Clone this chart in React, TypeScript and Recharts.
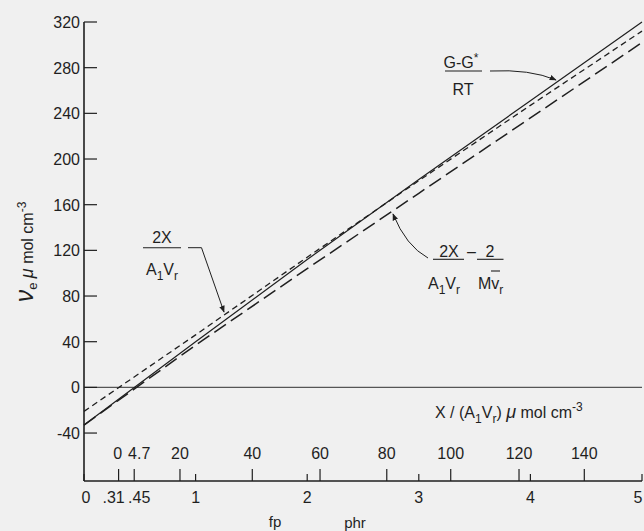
import { LineChart, Line, XAxis, YAxis, ReferenceLine } from "recharts";

const FONT = "'Liberation Sans', Arial, sans-serif";
const INK = "#1f1f1f";

const fp = [0, 1, 2, 3, 4, 5];
// (G - G*) / RT  -- solid
const gibbsLine = [-33, 40, 112, 182, 251, 320];
// 2X / (A1 Vr)  -- short dashes
const crosslinkLine = [-21, 46, 114, 181, 247, 312];
// 2X / (A1 Vr) - 2 / (M vr)  -- long dashes
const correctedLine = [-33, 37, 104, 170, 236, 302];

const yTicks = [-40, 0, 40, 80, 120, 160, 200, 240, 280, 320];

// lower scale: fp in phr
const fpTicks = [0, 0.31, 0.45, 1, 2, 3, 4, 5];
const fpLabels = ["0", ".31", ".45", "1", "2", "3", "4", "5"];

// upper scale: X/(A1Vr) in umol cm-3, placed at the fp where it falls
const concTicks = [0.31, 0.45, 0.86, 1.508, 2.115, 2.713, 3.286, 3.898, 4.483];
const concLabels = ["0", "4.7", "20", "40", "60", "80", "100", "120", "140"];

const allTicks = Array.from(new Set([...fpTicks, ...concTicks])).sort((a, b) => a - b);

const rows = fp.map((v, i) => ({
  fp: v,
  gibbs: gibbsLine[i],
  crosslink: crosslinkLine[i],
  corrected: correctedLine[i],
}));

const txt = { fontFamily: FONT, fontSize: 16, fill: INK };

// crowded labels near the origin are pushed apart a little, as in the print
const nudge: Record<string, number> = { ".31": -5, ".45": 5, "4.7": 5, "0": 0, "5": -4 };

const BottomTick = (props: any) => {
  const { x, y, payload } = props;
  const fi = fpTicks.indexOf(payload.value);
  const ci = concTicks.indexOf(payload.value);
  const len = ci >= 0 ? 12 : 7;
  const fpText = fi >= 0 ? fpLabels[fi] : null;
  const concText = ci >= 0 ? concLabels[ci] : null;
  return (
    <g>
      <line x1={x} y1={y} x2={x} y2={y - len} stroke={INK} strokeWidth={1.2} />
      {fpText && (
        <text x={x + (payload.value === 0 ? 2 : nudge[fpText] || 0)} y={y + 22} textAnchor="middle" {...txt}>
          {fpText}
        </text>
      )}
      {concText && (
        <text x={x + (concText === "0" ? -1 : nudge[concText] || 0)} y={y - 22} textAnchor="middle" {...txt}>
          {concText}
        </text>
      )}
    </g>
  );
};

const TopTick = (props: any) => {
  const { x, y, payload } = props;
  const len = concTicks.indexOf(payload.value) >= 0 ? 11 : 7;
  return <line x1={x} y1={y} x2={x} y2={y + len} stroke={INK} strokeWidth={1.2} />;
};

const LeftTick = (props: any) => {
  const { x, y, payload } = props;
  return (
    <g>
      <line x1={x} y1={y} x2={x + 13} y2={y} stroke={INK} strokeWidth={1.2} />
      <text x={x - 4} y={y + 6} textAnchor="end" {...txt}>
        {payload.value}
      </text>
    </g>
  );
};

const RightTick = (props: any) => {
  const { x, y } = props;
  return <line x1={x - 10} y1={y} x2={x} y2={y} stroke={INK} strokeWidth={1.2} />;
};

const Sub = ({ children, size = 12 }: { children: string; size?: number }) => (
  <tspan fontSize={size} dy={5}>
    {children}
  </tspan>
);

function Annotations() {
  return (
    <svg
      width={644}
      height={531}
      style={{ position: "absolute", left: 0, top: 0, pointerEvents: "none" }}
    >
      <defs>
        <marker id="head" viewBox="0 0 10 10" refX="9" refY="5" markerWidth="7" markerHeight="7" orient="auto">
          <path d="M0,1 L10,5 L0,9 z" fill={INK} />
        </marker>
      </defs>

      {/* y axis title */}
      <text transform="rotate(-90)" x={-252} y={33} textAnchor="middle" {...txt}>
        <tspan fontSize={25} fontStyle="italic">ν</tspan>
        <tspan fontSize={13} dy={4}>e</tspan>
        <tspan dy={-4}> </tspan>
        <tspan fontSize={18} fontStyle="italic">μ</tspan>
        <tspan> mol cm</tspan>
        <tspan fontSize={12} dy={-7}>-3</tspan>
      </text>

      {/* 2X / A1Vr */}
      <text x={162} y={243} textAnchor="middle" {...txt}>2X</text>
      <line x1={143} y1={247.7} x2={181} y2={247.7} stroke={INK} strokeWidth={1.1} />
      <text x={162} y={275} textAnchor="middle" {...txt}>
        A<Sub>1</Sub><tspan dy={-5}>V</tspan><Sub>r</Sub>
      </text>
      <path d="M188 247.7 L201.5 247.7 L224 312" fill="none" stroke={INK} strokeWidth={1} markerEnd="url(#head)" />

      {/* (G-G*) / RT */}
      <text x={461} y={67.5} textAnchor="middle" {...txt}>
        G-G<tspan fontSize={12} dy={-6}>*</tspan>
      </text>
      <line x1={445} y1={71} x2={482} y2={71} stroke={INK} strokeWidth={1.1} />
      <text x={463} y={95} textAnchor="middle" {...txt}>RT</text>
      <path d="M490 71 Q 530 69 556 80" fill="none" stroke={INK} strokeWidth={1} markerEnd="url(#head)" />

      {/* 2X/A1Vr - 2/Mvr */}
      <text x={449} y={256.5} textAnchor="middle" {...txt}>2X</text>
      <line x1={433} y1={259.3} x2={464} y2={259.3} stroke={INK} strokeWidth={1.1} />
      <text x={471.5} y={256.5} textAnchor="middle" {...txt}>–</text>
      <text x={490} y={256.5} textAnchor="middle" {...txt}>2</text>
      <line x1={477} y1={259.3} x2={503.5} y2={259.3} stroke={INK} strokeWidth={1.1} />
      <text x={444} y={289} textAnchor="middle" {...txt}>
        A<Sub>1</Sub><tspan dy={-5}>V</tspan><Sub>r</Sub>
      </text>
      <text x={478} y={289} {...txt}>
        Mv<Sub>r</Sub>
      </text>
      <line x1={491} y1={271} x2={500} y2={271} stroke={INK} strokeWidth={1.1} />
      <path d="M428 258 Q 406 246 393 214" fill="none" stroke={INK} strokeWidth={1} markerEnd="url(#head)" />

      {/* upper scale title */}
      <text x={435} y={417.5} {...txt}>
        X / (A<Sub>1</Sub><tspan dy={-5}>V</tspan><Sub>r</Sub>
        <tspan dy={-5}>) </tspan>
        <tspan fontSize={18} fontStyle="italic">μ</tspan>
        <tspan> mol cm</tspan>
        <tspan fontSize={12} dy={-7}>-3</tspan>
      </text>

      {/* lower scale titles */}
      <text x={275} y={527} textAnchor="middle" {...txt} fontSize={15}>fp</text>
      <text x={355} y={528} textAnchor="middle" {...txt} fontSize={15}>phr</text>
    </svg>
  );
}

export default function App() {
  return (
    <div style={{ position: "absolute", left: 0, top: 0, width: 644, height: 531, background: "#f0f0f0" }}>
      <LineChart width={644} height={531} data={rows} margin={{ top: 22, right: 2, bottom: 0, left: 0 }}>
        <XAxis
          xAxisId="bottom"
          dataKey="fp"
          type="number"
          domain={[0, 5]}
          ticks={allTicks}
          interval={0}
          height={50}
          tickSize={0}
          tickMargin={0}
          tickLine={false}
          tick={(p: any) => <BottomTick {...p} />}
          axisLine={{ stroke: INK, strokeWidth: 1.6 }}
        />
        <XAxis
          xAxisId="top"
          orientation="top"
          dataKey="fp"
          type="number"
          domain={[0, 5]}
          ticks={allTicks}
          interval={0}
          height={0}
          tickSize={0}
          tickMargin={0}
          tickLine={false}
          tick={(p: any) => <TopTick {...p} />}
          axisLine={{ stroke: INK, strokeWidth: 1.4 }}
        />
        <YAxis
          yAxisId="left"
          type="number"
          domain={[-82, 320]}
          ticks={yTicks}
          interval={0}
          width={84}
          tickSize={0}
          tickMargin={0}
          tickLine={false}
          tick={(p: any) => <LeftTick {...p} />}
          axisLine={{ stroke: INK, strokeWidth: 1.6 }}
        />
        <YAxis
          yAxisId="right"
          orientation="right"
          type="number"
          domain={[-82, 320]}
          ticks={yTicks}
          interval={0}
          width={0}
          tickSize={0}
          tickMargin={0}
          tickLine={false}
          tick={(p: any) => <RightTick {...p} />}
          axisLine={{ stroke: INK, strokeWidth: 1.4 }}
        />
        <ReferenceLine xAxisId="bottom" yAxisId="left" y={0} stroke="#555" strokeWidth={1.4} />
        <Line
          xAxisId="bottom"
          yAxisId="left"
          type="linear"
          dataKey="corrected"
          stroke={INK}
          strokeWidth={1.5}
          strokeDasharray="14 6"
          dot={false}
          isAnimationActive={false}
        />
        <Line
          xAxisId="bottom"
          yAxisId="left"
          type="linear"
          dataKey="crosslink"
          stroke={INK}
          strokeWidth={1.3}
          strokeDasharray="6 4"
          dot={false}
          isAnimationActive={false}
        />
        <Line
          xAxisId="bottom"
          yAxisId="left"
          type="linear"
          dataKey="gibbs"
          stroke={INK}
          strokeWidth={1.2}
          dot={false}
          isAnimationActive={false}
        />
      </LineChart>
      <Annotations />
    </div>
  );
}
